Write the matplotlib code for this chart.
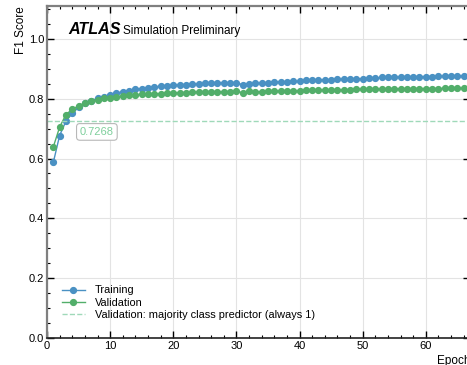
import matplotlib
matplotlib.use("Agg")
import matplotlib.pyplot as plt
from matplotlib.ticker import MultipleLocator

plt.rcParams["font.family"] = ["Liberation Sans", "DejaVu Sans"]

EPOCHS = list(range(1, 67))
TRAIN_F1 = [
    0.587, 0.677, 0.725, 0.751, 0.771, 0.785, 0.793, 0.802, 0.807, 0.813,
    0.818, 0.824, 0.827, 0.831, 0.834, 0.837, 0.839, 0.842, 0.843, 0.845,
    0.846, 0.847, 0.849, 0.849, 0.851, 0.852, 0.852, 0.853, 0.853, 0.853,
    0.847, 0.849, 0.851, 0.852, 0.854, 0.856, 0.856, 0.857, 0.858, 0.858,
    0.861, 0.862, 0.863, 0.863, 0.864, 0.865, 0.865, 0.866, 0.866, 0.867,
    0.868, 0.869, 0.871, 0.871, 0.872, 0.872, 0.873, 0.873, 0.874, 0.874,
    0.874, 0.875, 0.875, 0.875, 0.876, 0.876,
]
VAL_F1 = [
    0.639, 0.705, 0.747, 0.765, 0.776, 0.786, 0.793, 0.797, 0.802, 0.804,
    0.806, 0.809, 0.812, 0.813, 0.815, 0.815, 0.816, 0.817, 0.818, 0.819,
    0.819, 0.820, 0.822, 0.822, 0.823, 0.823, 0.823, 0.824, 0.824, 0.825,
    0.820, 0.825, 0.823, 0.824, 0.825, 0.825, 0.826, 0.826, 0.827, 0.827,
    0.828, 0.829, 0.829, 0.829, 0.830, 0.830, 0.830, 0.829, 0.832, 0.832,
    0.832, 0.832, 0.832, 0.833, 0.833, 0.833, 0.833, 0.834, 0.834, 0.834,
    0.834, 0.834, 0.835, 0.835, 0.835, 0.835,
]
MAJORITY_F1 = 0.7268

BLUE = "#4a91c3"
GREEN = "#52ae6a"
LIGHT_GREEN = "#9fd9b9"

fig = plt.figure(figsize=(4.67, 3.65), dpi=100)
ax = fig.add_axes([47 / 467, 1 - 338 / 365, 423 / 467, 332 / 365])

ax.plot(EPOCHS, TRAIN_F1, "-o", color=BLUE, lw=1.0, ms=4.2, label="Training")
ax.plot(EPOCHS, VAL_F1, "-o", color=GREEN, lw=1.0, ms=4.2, label="Validation")
ax.axhline(MAJORITY_F1, color=LIGHT_GREEN, ls="--", lw=1.0,
           label="Validation: majority class predictor (always 1)")
ax.text(7.9, 0.689, f"{MAJORITY_F1:.4f}", color="#7fcf9c", fontsize=8,
        ha="center", va="center",
        bbox=dict(boxstyle="round,pad=0.3", fc="white", ec="#b8b8b8", lw=0.8))

ax.set_xlim(0, 67)
ax.set_ylim(0, 1.11)
ax.xaxis.set_major_locator(MultipleLocator(10))
ax.xaxis.set_minor_locator(MultipleLocator(2))
ax.yaxis.set_major_locator(MultipleLocator(0.2))
ax.yaxis.set_minor_locator(MultipleLocator(0.05))
ax.yaxis.set_major_formatter(plt.FormatStrFormatter("%.1f"))
ax.tick_params(which="both", direction="in", top=True, right=True,
               labelsize=8, pad=2)
ax.tick_params(which="major", length=5, width=1)
ax.tick_params(which="minor", length=2.5, width=0.8)
ax.grid(True, which="major", color="#e3e3e3", lw=0.8)
ax.set_axisbelow(True)

for side in ("left", "top"):
    ax.spines[side].set_color("#808080")
    ax.spines[side].set_linewidth(1.6)
ax.spines["bottom"].set_color("#222222")
ax.spines["bottom"].set_linewidth(1.2)

ax.set_xlabel("Epoch", fontsize=8.5, loc="right", labelpad=3)
ax.set_ylabel("F1 Score", fontsize=8.5, loc="top", labelpad=1)

ax.text(0.05, 0.916, "ATLAS", transform=ax.transAxes, fontsize=11.6,
        fontweight="bold", fontstyle="italic")
ax.text(0.179, 0.916, "Simulation Preliminary", transform=ax.transAxes,
        fontsize=8.5)

ax.legend(loc="lower left", bbox_to_anchor=(0.035, 0.055), frameon=False,
          fontsize=7.9, handlelength=2.1, handletextpad=0.9,
          labelspacing=0.2, borderpad=0, borderaxespad=0)

fig.savefig("out.png", dpi=100)
